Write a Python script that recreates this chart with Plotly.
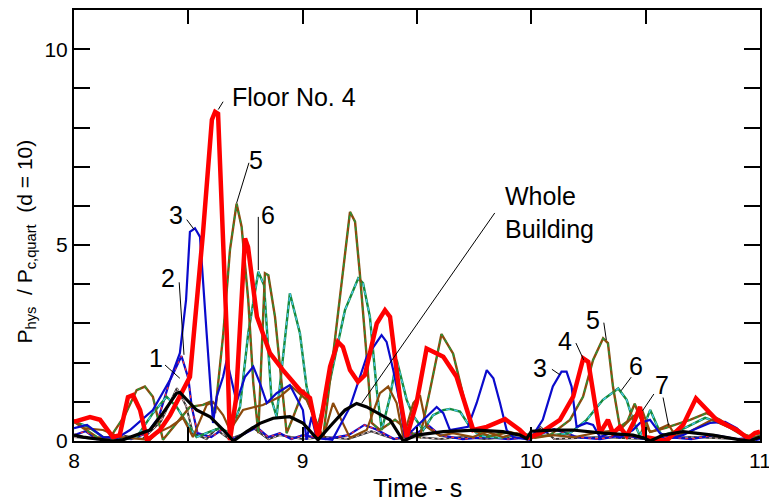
import plotly.graph_objects as go

# ---------------- data ----------------
t_f4 = [8.0, 8.07, 8.114, 8.17, 8.2, 8.236, 8.258, 8.289, 8.32, 8.376, 8.42, 8.463, 8.507, 8.564, 8.603, 8.617, 8.63,
        8.668, 8.682, 8.708, 8.748, 8.761, 8.8, 8.857, 8.914, 8.988, 9.032, 9.067, 9.12, 9.154, 9.176, 9.207, 9.242,
        9.272, 9.324, 9.36, 9.382, 9.425, 9.455, 9.498, 9.542, 9.615, 9.673, 9.746, 9.805, 9.885, 9.95, 9.985, 10.038,
        10.125, 10.183, 10.227, 10.249, 10.278, 10.3, 10.335, 10.357, 10.387, 10.417, 10.453, 10.475, 10.497, 10.59,
        10.664, 10.72, 10.81, 10.898, 10.948, 10.978, 11.0]
v_f4 = [0.49, 0.61, 0.54, 0.1, 0.15, 1.12, 1.17, 0.79, 0.02, 0.28, 0.66, 1.12, 1.64, 5.3, 8.2, 8.4, 8.35,
        2.75, 0.02, 1.05, 5.17, 4.95, 3.17, 2.24, 1.81, 1.3, 1.1, 0.08, 1.9, 2.53, 2.4, 1.81, 1.51,
        1.68, 3.0, 3.34, 3.17, 1.13, 0.1, 0.97, 2.36, 2.15, 1.64, 0.28, 0.36, 0.56, 0.28, 0.08, 0.2,
        0.54, 1.13, 2.11, 2.02, 0.97, 0.2, 0.54, 0.2, 0.36, 0.13, 0.54, 0.87, 0.1, 0.0,
        0.41, 1.09, 0.54, 0.28, 0.07, 0.2, 0.24]

t_f3 = [8.0, 8.057, 8.127, 8.188, 8.245, 8.345, 8.42, 8.463, 8.49, 8.507, 8.529, 8.551, 8.58, 8.608, 8.624, 8.652,
        8.668, 8.69, 8.711, 8.748, 8.784, 8.813, 8.843, 8.886, 8.944, 9.001, 9.017, 9.039, 9.061, 9.13, 9.207, 9.28,
        9.345, 9.367, 9.396, 9.425, 9.447, 9.482, 9.542, 9.586, 9.615, 9.644, 9.723, 9.761, 9.805, 9.834, 9.863,
        9.892, 9.92, 9.994, 10.05, 10.094, 10.132, 10.154, 10.176, 10.198, 10.242, 10.27, 10.3, 10.344, 10.387,
        10.444, 10.475, 10.519, 10.562, 10.619, 10.663, 10.707, 10.781, 10.847, 10.898, 10.941, 10.985, 11.0]
v_f3 = [0.33, 0.41, 0.1, 0.08, 0.28, 0.79, 1.56, 2.24, 3.6, 5.34, 5.43, 5.21, 2.75, 0.46, 1.13, 1.64,
        2.07, 1.48, 1.0, 1.64, 1.9, 1.48, 0.97, 1.22, 1.43, 0.79, 0.03, 0.62, 0.08, 0.03, 0.87, 2.15,
        2.7, 2.53, 1.81, 0.97, 0.1, 0.28, 0.62, 0.87, 0.71, 0.28, 0.36, 0.97, 1.81, 1.6, 0.97,
        0.28, 0.1, 0.03, 0.54, 1.39, 1.77, 1.77, 1.39, 0.36, 0.46, 0.41, 0.1, 0.2, 0.08,
        0.28, 0.46, 0.54, 0.2, 0.08, 0.15, 0.28, 0.46, 0.49, 0.33, 0.1, 0.03, 0.05]

t_f5 = [8.0, 8.04, 8.1, 8.157, 8.223, 8.274, 8.31, 8.345, 8.389, 8.442, 8.507, 8.564, 8.595, 8.617, 8.653, 8.682,
        8.711, 8.733, 8.762, 8.784, 8.806, 8.835, 8.85, 8.879, 8.908, 8.93, 8.959, 9.003, 9.032, 9.089, 9.141,
        9.207, 9.229, 9.25, 9.28, 9.302, 9.338, 9.404, 9.469, 9.513, 9.557, 9.607, 9.658, 9.702, 9.739, 9.819,
        9.906, 9.994, 10.081, 10.169, 10.226, 10.27, 10.314, 10.335, 10.357, 10.387, 10.42, 10.452, 10.475, 10.52,
        10.584, 10.694, 10.766, 10.825, 10.912, 10.978, 11.0]
v_f5 = [0.49, 0.33, 0.1, 0.08, 0.66, 1.3, 1.39, 1.13, 0.03, 0.41, 0.87, 0.92, 1.0, 0.71, 2.75, 4.87,
        6.06, 5.47, 3.6, 1.48, 0.2, 4.28, 4.23, 3.17, 1.48, 0.2, 0.62, 1.3, 0.87, 0.08, 2.58,
        5.85, 5.6, 4.28, 2.15, 0.46, 0.28, 0.54, 0.23, 0.1, 1.3, 2.73, 2.23, 1.13, 0.28, 0.13,
        0.23, 0.08, 0.15, 0.54, 1.13, 2.07, 2.62, 2.5, 1.39, 0.36, 0.5, 0.95, 0.6, 0.23,
        0.33, 0.54, 0.71, 0.54, 0.2, 0.08, 0.13]

t_f6 = [8.0, 8.057, 8.127, 8.2, 8.274, 8.345, 8.405, 8.449, 8.493, 8.536, 8.595, 8.638, 8.682, 8.726, 8.762, 8.806,
        8.831, 8.864, 8.886, 8.944, 8.988, 9.017, 9.061, 9.12, 9.185, 9.243, 9.264, 9.294, 9.324, 9.346, 9.382,
        9.411, 9.455, 9.482, 9.527, 9.57, 9.615, 9.644, 9.688, 9.732, 9.775, 9.863, 9.95, 10.06, 10.169, 10.242,
        10.313, 10.38, 10.417, 10.444, 10.475, 10.52, 10.57, 10.67, 10.76, 10.85, 10.91, 10.956, 11.0]
v_f6 = [0.49, 0.38, 0.1, 0.03, 0.1, 0.71, 1.13, 0.87, 0.46, 0.1, 0.24, 0.33, 0.2, 0.87, 2.75, 4.32,
        3.98, 1.05, 0.62, 3.77, 2.75, 1.39, 0.28, 1.56, 3.34, 4.15, 4.03, 3.17, 1.3, 0.28, 1.13,
        2.07, 1.05, 0.66, 0.28, 0.66, 0.79, 0.82, 0.75, 0.36, 0.13, 0.08, 0.18, 0.13, 0.2, 0.54,
        1.05, 1.34, 1.05, 0.54, 0.13, 0.79, 0.13, 0.33, 0.59, 0.41, 0.23, 0.03, 0.15]

t_f7 = [8.0, 8.04, 8.127, 8.2, 8.332, 8.362, 8.42, 8.477, 8.52, 8.58, 8.608, 8.652, 8.682, 8.739, 8.826, 8.9,
        8.952, 9.017, 9.061, 9.089, 9.133, 9.17, 9.207, 9.28, 9.338, 9.374, 9.411, 9.44, 9.484, 9.513, 9.542,
        9.6, 9.657, 9.745, 9.805, 9.876, 9.936, 10.016, 10.094, 10.19, 10.3, 10.387, 10.444, 10.486, 10.519,
        10.548, 10.6, 10.63, 10.69, 10.79, 10.87, 10.935, 11.0]
v_f7 = [0.54, 0.33, 0.28, 0.1, 0.03, 0.2, 0.36, 0.59, 0.1, 0.92, 1.0, 0.66, 0.28, 0.79, 0.92, 1.13,
        1.39, 1.05, 0.46, 0.08, 0.97, 0.54, 0.08, 0.28, 1.22, 1.39, 0.97, 0.08, 0.97, 1.17, 0.36,
        0.13, 0.2, 0.1, 0.24, 0.1, 0.2, 0.08, 0.15, 0.1, 0.23, 0.28, 0.62, 0.77, 0.23,
        0.28, 0.42, 0.13, 0.23, 0.54, 0.33, 0.1, 0.2]

t_f2 = [8.0, 8.05, 8.1, 8.18, 8.25, 8.32, 8.37, 8.42, 8.47, 8.5, 8.515, 8.54, 8.6, 8.65, 8.7, 8.75, 8.8, 8.85,
        8.9, 8.95, 9.0, 9.1, 9.2, 9.27, 9.32, 9.4, 9.5, 9.55, 9.6, 9.7, 9.8, 9.9, 10.0, 10.1, 10.2, 10.3, 10.4,
        10.5, 10.6, 10.7, 10.8, 10.9, 11.0]
v_f2 = [0.15, 0.25, 0.05, 0.1, 0.05, 0.2, 0.6, 1.55, 2.17, 1.6, 0.87, 0.2, 0.1, 0.3, 0.05, 0.2, 0.35, 0.1,
        0.2, 0.05, 0.15, 0.05, 0.15, 0.41, 0.3, 0.05, 0.2, 0.4, 0.15, 0.05, 0.1, 0.05, 0.1, 0.3, 0.1, 0.05, 0.15,
        0.05, 0.1, 0.05, 0.15, 0.05, 0.1]

t_f1 = [8.0, 8.1, 8.2, 8.3, 8.38, 8.45, 8.49, 8.52, 8.58, 8.62, 8.68, 8.75, 8.78, 8.85, 8.9, 9.0, 9.1, 9.2,
        9.3, 9.4, 9.5, 9.6, 9.7, 9.8, 9.9, 10.0, 10.04, 10.1, 10.3, 10.5, 10.7, 10.9, 11.0]
v_f1 = [0.1, 0.05, 0.15, 0.05, 0.5, 1.35, 0.9, 0.2, 0.05, 0.3, 0.05, 0.2, 0.35, 0.05, 0.15, 0.05, 0.1, 0.05,
        0.25, 0.05, 0.1, 0.05, 0.1, 0.05, 0.1, 0.05, 0.35, 0.05, 0.1, 0.05, 0.1, 0.05, 0.05]

t_wb = [8.0, 8.04, 8.17, 8.214, 8.332, 8.389, 8.449, 8.463, 8.536, 8.595, 8.653, 8.697, 8.755, 8.813, 8.871, 8.944,
        9.001, 9.067, 9.133, 9.185, 9.236, 9.28, 9.382, 9.44, 9.498, 9.615, 9.761, 9.876, 9.95, 9.98, 10.0, 10.094,
        10.18, 10.313, 10.444, 10.49, 10.52, 10.576, 10.663, 10.794, 10.912, 10.956, 11.0]
v_wb = [0.15, 0.1, 0.0, 0.03, 0.28, 0.71, 1.22, 1.24, 0.79, 0.62, 0.28, 0.0, 0.24, 0.45, 0.58, 0.62,
        0.46, 0.03, 0.46, 0.79, 0.96, 0.87, 0.54, 0.0, 0.15, 0.24, 0.28, 0.24, 0.15, 0.06, 0.25, 0.28,
        0.28, 0.2, 0.15, 0.08, 0.0, 0.15, 0.24, 0.15, 0.03, 0.0, 0.1]

x_ticks = [8, 9, 10, 11]
y_ticks = [0, 5, 10]

# ---------------- styles ----------------
RED = "#ff0000"
BLUE = "#0a0acc"
BROWN = "#8b4a0c"
GREEN = "#148a3c"
CYAN = "#49c6f0"
FONT = "Liberation Sans, Arial, sans-serif"

fig = go.Figure()


def add(t, v, color, width, dash="solid"):
    fig.add_trace(go.Scatter(x=t, y=v, mode="lines", showlegend=False, hoverinfo="skip",
                             line=dict(color=color, width=width, dash=dash)))


# floor 1: black with light dashes
add(t_f1, v_f1, "#333333", 2.0)
add(t_f1, v_f1, "#ffd0d0", 1.0, "3px,3px")
# floor 2: blue with red dashes
add(t_f2, v_f2, BLUE, 2.2)
add(t_f2, v_f2, "#ff3030", 1.2, "3px,4px")
# floor 6: green with cyan dashes
add(t_f6, v_f6, GREEN, 2.4)
add(t_f6, v_f6, CYAN, 1.3, "4px,4px")
# floor 5: brown with green dashes
add(t_f5, v_f5, BROWN, 2.4)
add(t_f5, v_f5, "#1f9a3c", 1.4, "4px,4px")
# floor 7: brown solid
add(t_f7, v_f7, BROWN, 2.2)
# floor 3: blue solid
add(t_f3, v_f3, BLUE, 2.2)
# floor 4: thick red
add(t_f4, v_f4, RED, 4.5)
# whole building: thick black
add(t_wb, v_wb, "#000000", 3.2)

# ---------------- labels ----------------
labels = [
    ("Floor No. 4", 8.682, 8.78, "left"),
    ("5", 8.797, 7.17, "center"),
    ("6", 8.848, 5.77, "center"),
    ("3", 8.448, 5.77, "center"),
    ("2", 8.412, 4.15, "center"),
    ("1", 8.358, 2.13, "center"),
    ("Whole<br>Building", 9.876, 5.82, "left"),
    ("3", 10.04, 1.87, "center"),
    ("4", 10.147, 2.56, "center"),
    ("5", 10.268, 3.1, "center"),
    ("6", 10.457, 1.91, "center"),
    ("7", 10.571, 1.44, "center"),
]
for txt, x, y, anc in labels:
    fig.add_annotation(x=x, y=y, text=txt, showarrow=False, xanchor=anc, yanchor="middle", align="left",
                       font=dict(family=FONT, size=25, color="black"))

leaders = [
    (8.652, 8.66, 8.631, 8.46),
    (8.765, 7.1, 8.711, 6.07),
    (8.806, 5.72, 8.806, 4.36),
    (8.493, 5.65, 8.525, 5.40),
    (8.46, 4.05, 8.481, 2.2),
    (8.398, 1.94, 8.463, 1.6),
    (9.84, 5.82, 9.258, 0.96),
    (10.09, 1.83, 10.125, 1.69),
    (10.195, 2.5, 10.229, 2.07),
    (10.317, 3.02, 10.328, 2.58),
    (10.437, 1.63, 10.392, 1.28),
    (10.536, 1.2, 10.486, 0.77),
    (10.576, 1.11, 10.6, 0.4),
]
for x0, y0, x1, y1 in leaders:
    fig.add_shape(type="line", x0=x0, y0=y0, x1=x1, y1=y1, xref="x", yref="y",
                  line=dict(color="black", width=1))

# axis titles as annotations (pixel-controlled)
fig.add_annotation(xref="paper", yref="paper", x=0.5, y=0, yshift=-47, xanchor="center", yanchor="middle",
                   text="Time - s", showarrow=False, font=dict(family=FONT, size=25, color="black"))
fig.add_annotation(xref="paper", yref="paper", x=0, y=0.5, xshift=-49, yshift=-16, xanchor="center",
                   yanchor="middle", textangle=-90,
                   text="P<sub>hys</sub>  / P<sub>c,quart</sub>  (d = 10)", showarrow=False,
                   font=dict(family=FONT, size=21, color="black"))

fig.update_layout(
    width=769, height=502,
    margin=dict(l=74, r=9, t=10, b=61, autoexpand=False),
    paper_bgcolor="white", plot_bgcolor="white",
    font=dict(family=FONT, size=20, color="black"),
    showlegend=False,
)
fig.update_xaxes(
    range=[8, 11], tickvals=x_ticks, ticktext=[str(v) for v in x_ticks], automargin=False,
    ticklabeloverflow="allow",
    ticks="inside", ticklen=14, tickwidth=2, tickcolor="black",
    showline=True, linewidth=2, linecolor="black", mirror="allticks",
    showgrid=False, zeroline=False, tickfont=dict(size=21),
    minor=dict(dtick=0.5, ticks="inside", ticklen=14, tickwidth=2, tickcolor="black", showgrid=False),
)
fig.update_yaxes(
    range=[0, 11], tickvals=y_ticks, ticktext=[str(v) for v in y_ticks], automargin=False,
    ticklabeloverflow="allow",
    ticks="inside", ticklen=16, tickwidth=2, tickcolor="black",
    showline=True, linewidth=2, linecolor="black", mirror="allticks",
    showgrid=False, zeroline=False, tickfont=dict(size=21),
    minor=dict(dtick=1, ticks="inside", ticklen=16, tickwidth=2, tickcolor="black", showgrid=False),
)

fig.write_html("out.html")
